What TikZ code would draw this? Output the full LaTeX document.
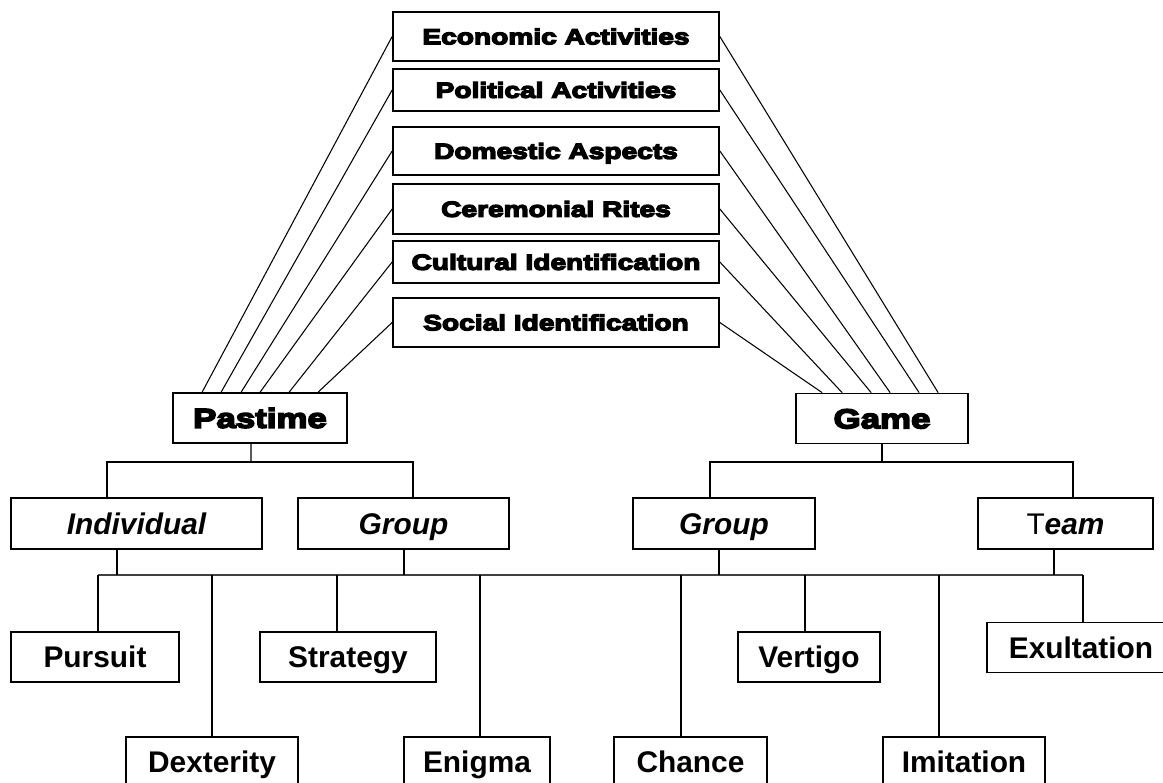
\documentclass[tikz,border=0pt]{standalone}
\usepackage{fontspec}
\setmainfont{Liberation Sans}
\newfontfamily\heavyfont[FakeBold=6,FakeStretch=1.28]{Liberation Sans Bold}
\usetikzlibrary{calc}

\begin{document}
\begin{tikzpicture}[
x=0.02cm, y=-0.02cm,
topbox/.style={draw, line width=1pt, inner sep=0pt, minimum width=6.52cm, text height=8.9pt, text depth=0pt, font=\heavyfont\fontsize{12.5}{15}\selectfont},
mainbox/.style={draw, line width=1pt, inner sep=0pt, minimum height=1.0cm, text height=11.1pt, text depth=0pt, font=\heavyfont\fontsize{15.5}{19}\selectfont},
kind/.style={draw, line width=1pt, inner sep=0pt, minimum height=1.02cm, text height=12.2pt, text depth=0pt, font=\fontsize{17}{20}\selectfont\bfseries\itshape},
leaf/.style={draw, line width=1pt, inner sep=0pt, minimum height=1.0cm, text height=12.2pt, text depth=0pt, font=\fontsize{17}{20}\selectfont\bfseries},
link/.style={draw=black, line width=0.6pt}
]
\useasboundingbox (0,0) rectangle (1163,782);

% aspects
\node[topbox, minimum height=0.98cm] (eco) at (556,36.5) {Economic Activities};
\node[topbox, minimum height=0.84cm] (pol) at (556,90) {Political Activities};
\node[topbox, minimum height=0.96cm] (dom) at (556,151) {Domestic Aspects};
\node[topbox, minimum height=1.0cm] (cer) at (556,209) {Ceremonial Rites};
\node[topbox, minimum height=0.84cm] (cul) at (556,262) {Cultural Identification};
\node[topbox, minimum height=0.98cm] (soc) at (556,322.5) {Social Identification};

\node[mainbox, minimum width=3.48cm] (past) at (260,418) {Pastime};
\node[mainbox, minimum width=3.44cm] (game) at (882,418.5) {Game};

\node[kind, minimum width=5.02cm] (indiv) at (136.5,523.5) {Individual};
\node[kind, minimum width=4.22cm] (pgroup) at (403.5,523.5) {Group};
\node[kind, minimum width=3.64cm] (ggroup) at (724,523.5) {Group};
\node[kind, minimum width=3.5cm] (team) at (1065.5,523.5) {{\mdseries\upshape T}eam};

\node[leaf, minimum width=3.36cm] (purs) at (95,657) {Pursuit};
\node[leaf, minimum width=3.52cm] (strat) at (348,657) {Strategy};
\node[leaf, minimum width=2.84cm] (vert) at (809,657) {Vertigo};
\node[leaf, minimum width=3.76cm] (exul) at (1081,647.5) {Exultation};
\node[leaf, minimum width=3.44cm] (dext) at (212,762) {Dexterity};
\node[leaf, minimum width=2.92cm] (enig) at (477,762) {Enigma};
\node[leaf, minimum width=3.06cm] (chan) at (690.5,762) {Chance};
\node[leaf, minimum width=3.24cm] (imit) at (964,762) {Imitation};

% aspects to pastime and game
\foreach \n/\dx in {eco/30, pol/49, dom/69, cer/88, cul/117, soc/146}
  \draw[link] (\n.west) -- ([xshift=\dx*0.02cm]past.north west);
\foreach \n/\dx in {eco/143, pol/124, dom/95, cer/76, cul/47, soc/27}
  \draw[link] (\n.east) -- ([xshift=\dx*0.02cm]game.north west);

% forks
\coordinate (pfork) at (251,462);
\coordinate (gfork) at (882,462);
\draw[link] ([xshift=-0.18cm]past.south) -- (pfork);
\draw[link] ([xshift=-0.59cm]indiv.north) |- (pfork) -| ([xshift=0.19cm]pgroup.north);
\draw[link] (game.south) -- (gfork);
\draw[link] ([xshift=-0.28cm]ggroup.north) |- (gfork) -| ([xshift=0.15cm]team.north);

% common bus
\coordinate (busL) at (98,575);
\coordinate (busR) at (1083,575);
\draw[link, line width=0.8pt, draw=black!75] (busL) -- (busR);
\foreach \n/\dx in {indiv/-19.5, pgroup/0.5, ggroup/-5, team/-11.5}
  \draw[link] ([xshift=\dx*0.02cm]\n.south) -- ([xshift=\dx*0.02cm]\n.south |- busL);
\foreach \n/\dx in {purs/3, dext/0, strat/-11, enig/3, chan/-9.5, vert/-4, imit/-25, exul/2}
  \draw[link] ([xshift=\dx*0.02cm]\n.north) -- ([xshift=\dx*0.02cm]\n.north |- busL);
\end{tikzpicture}
\end{document}
